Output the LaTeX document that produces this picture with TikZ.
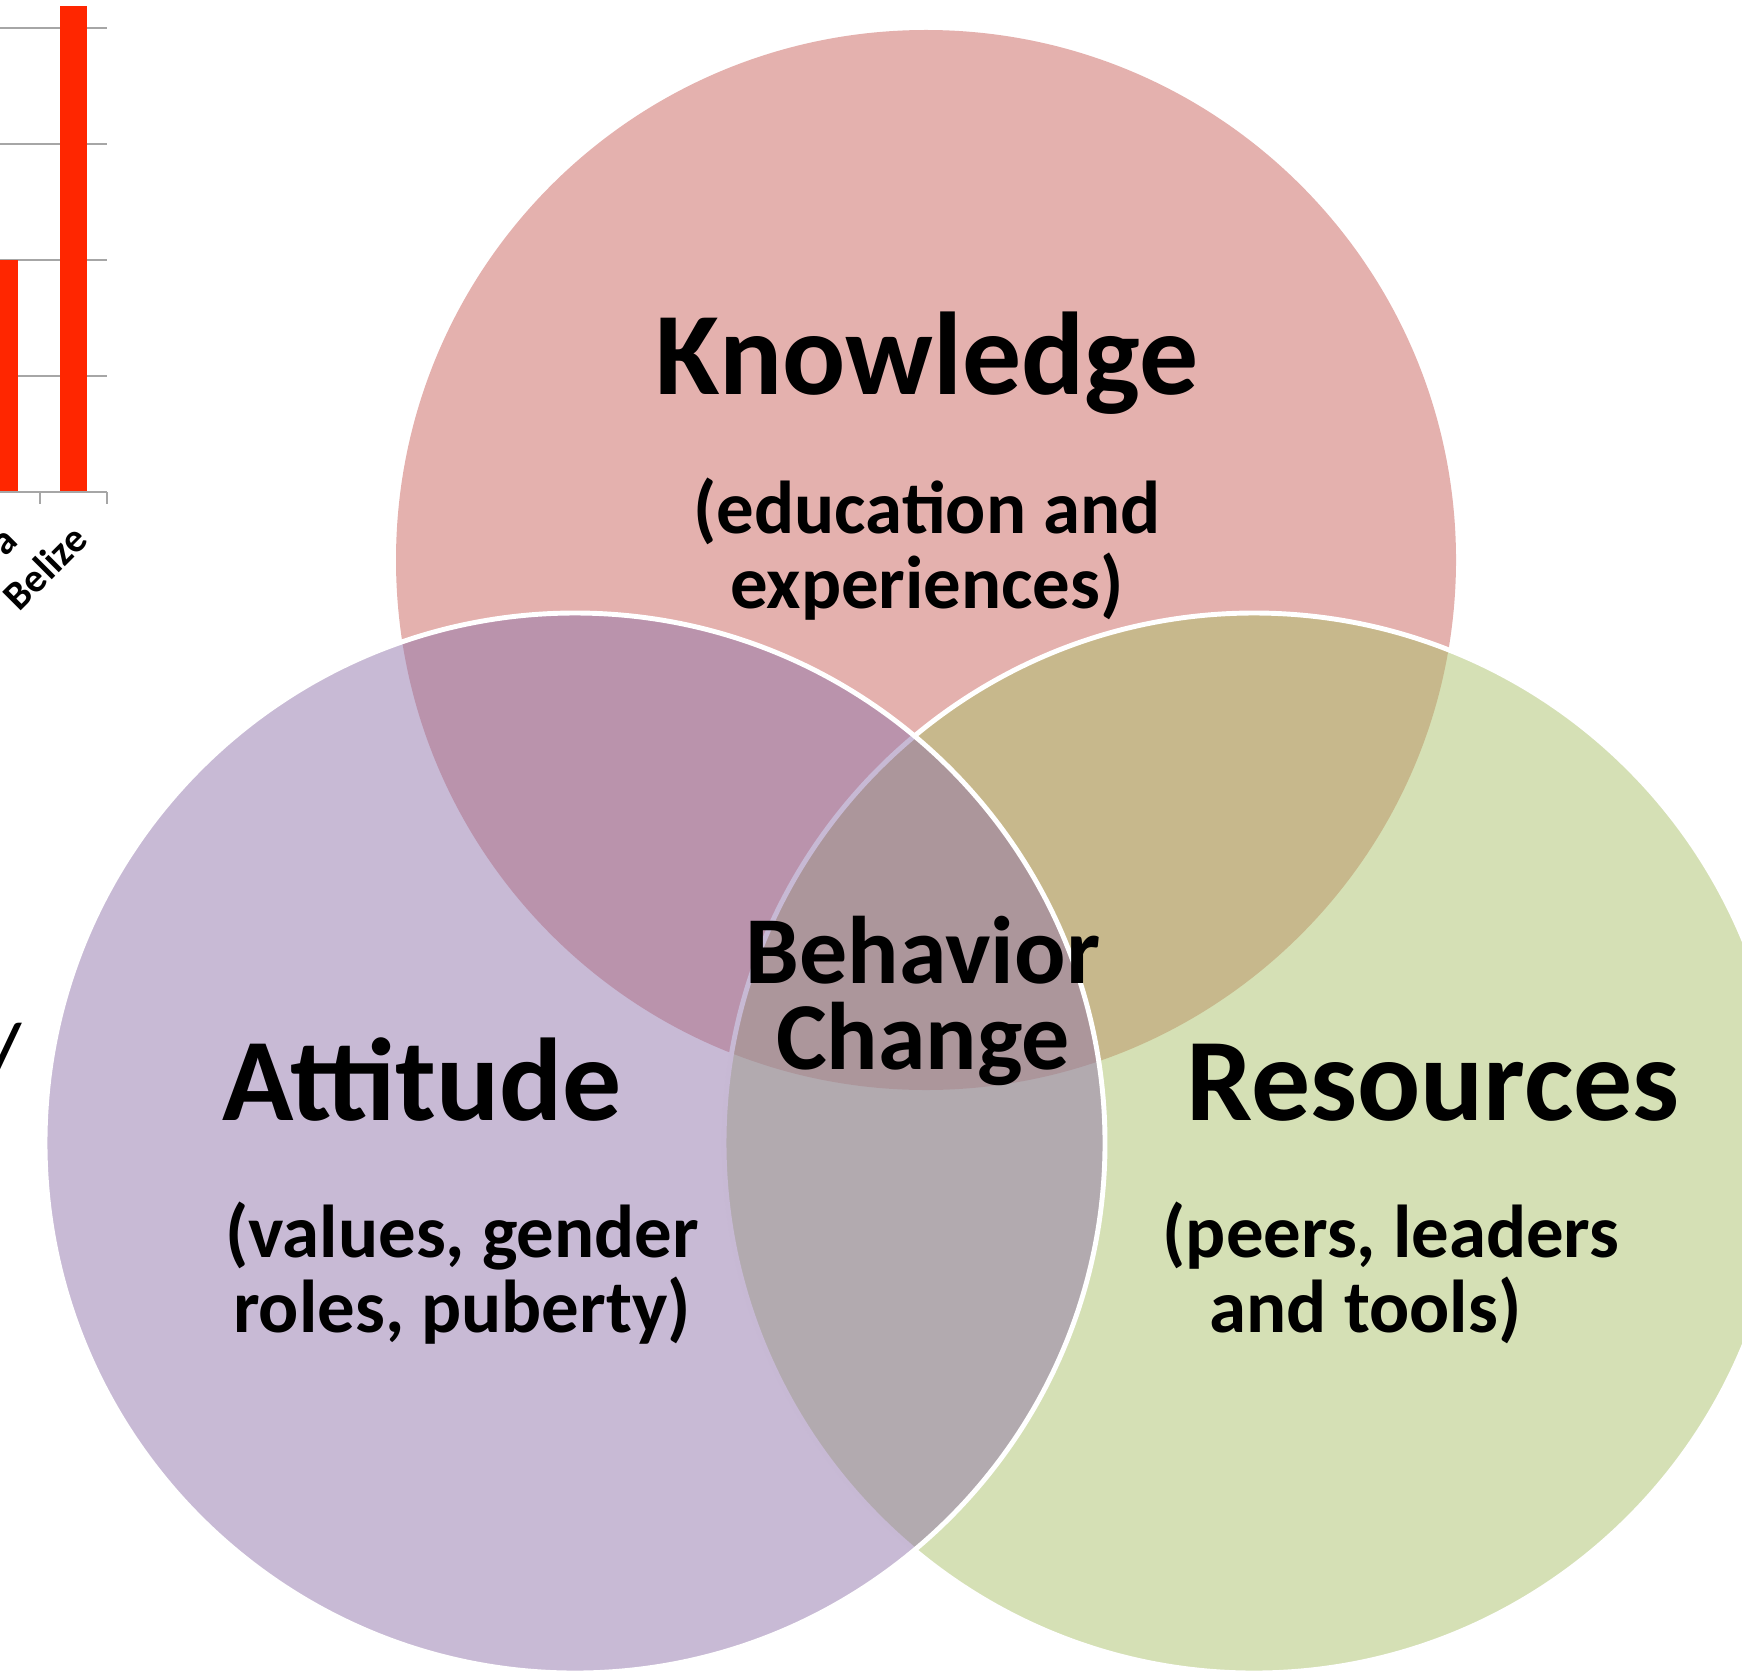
\documentclass[tikz,border=0pt]{standalone}
\usepackage{fontspec}
\setmainfont{Carlito}
\usepackage{tikz}
\usetikzlibrary{positioning}
\definecolor{knowred}{RGB}{201,99,93}
\definecolor{attpurple}{RGB}{145,117,171}
\definecolor{resgreen}{RGB}{171,193,107}
\definecolor{barred}{RGB}{255,38,0}
\definecolor{gridgray}{RGB}{166,166,166}

\begin{document}
\begin{tikzpicture}[
    circ/.style={fill opacity=0.5},
    rim/.style={draw=white, line width=1.4pt},
    axisline/.style={gridgray, line width=0.6pt},
    head/.style={font=\fontsize{33.5}{35}\selectfont\bfseries, inner sep=0pt, anchor=base},
    sub/.style={font=\fontsize{21.3}{21.5}\selectfont\bfseries, align=center, inner sep=0pt},
    tick label/.style={font=\fontsize{11.5}{13}\selectfont\bfseries, rotate=45, anchor=east, inner sep=0pt}
]
\useasboundingbox (0,0) rectangle (17.42,16.70);

% bar chart, cut off at the left edge
\foreach \y in {12.94,14.10,15.26,16.42}
    \draw[axisline] (0,\y) -- (1.07,\y);
\fill[barred] (0,11.78) rectangle (0.18,14.10);
\fill[barred] (0.60,11.78) rectangle (0.87,16.64);
\draw[axisline] (0,11.78) -- (1.07,11.78);
\foreach \x in {0.40,1.07}
    \draw[axisline] (\x,11.78) -- (\x,11.66);
\node[tick label] (belize) at (0.80,11.38) {Belize};
\node[tick label] (prevbar) at (0.13,11.34) {a};
\node[font=\fontsize{20}{22}\selectfont\bfseries, inner sep=0pt] (slash) at (0.07,6.21) {/};

% the three circles
\coordinate (kc) at (9.26,11.10);
\coordinate (ac) at (5.75,5.27);
\coordinate (rc) at (12.54,5.27);
\fill[knowred, circ] (kc) circle (5.30);
\path[fill=resgreen, circ, rim] (rc) circle (5.30);
\path[fill=attpurple, circ, rim] (ac) circle (5.30);

\node[head] (know) at (9.27,12.76) {Knowledge};
\node[sub] (knowsub) at (9.27,11.21) {(education and\\experiences)};
\node[font=\fontsize{27.3}{24.3}\selectfont\bfseries, align=center, inner sep=0pt] (change) at (9.23,6.69) {Behavior\\Change};
\node[head] (att) at (4.22,5.50) {Attitude};
\node[sub] (attsub) at (4.62,3.97) {(values, gender\\roles, puberty)};
\node[head] (res) at (14.33,5.50) {Resources};
\node[sub] (ressub) at (13.91,3.97) {(peers, leaders\\and tools)\hspace*{0.51cm}};
\end{tikzpicture}
\end{document}
